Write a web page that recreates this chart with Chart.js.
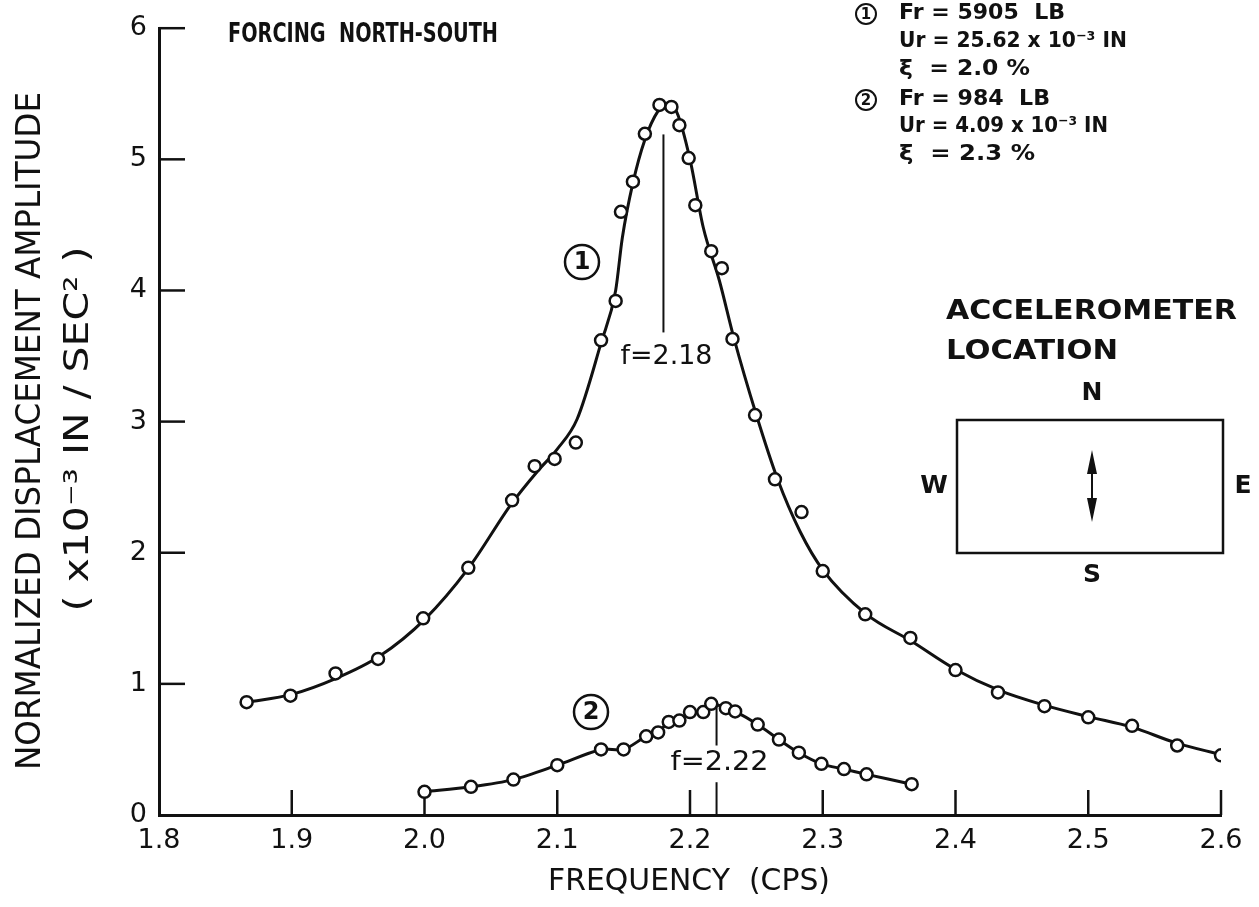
<!DOCTYPE html>
<html>
<head>
<meta charset="utf-8">
<script src="https://cdn.jsdelivr.net/npm/chart.js@4.4.1/dist/chart.umd.min.js"></script>
<style>
  html, body { margin: 0; padding: 0; background: #fff; }
  #wrap { width: 1259px; height: 907px; position: relative; }
</style>
</head>
<body>
<div id="wrap"><canvas id="chart"></canvas></div>
<script>
// run 1 (Fr = 5905 LB) - measured points
const run1Freq = [1.866, 1.899, 1.933, 1.965, 1.999, 2.033, 2.066, 2.083, 2.098, 2.114, 2.133, 2.144, 2.148, 2.157, 2.166, 2.177, 2.186, 2.192, 2.199, 2.204, 2.216, 2.224, 2.232, 2.249, 2.264, 2.284, 2.300, 2.332, 2.366, 2.400, 2.432, 2.467, 2.500, 2.533, 2.567, 2.600];
const run1Amp  = [0.86, 0.91, 1.08, 1.19, 1.50, 1.885, 2.40, 2.66, 2.715, 2.84, 3.62, 3.92, 4.60, 4.83, 5.195, 5.415, 5.40, 5.26, 5.01, 4.65, 4.30, 4.17, 3.63, 3.05, 2.56, 2.31, 1.86, 1.53, 1.35, 1.105, 0.935, 0.83, 0.745, 0.68, 0.53, 0.455];

// run 1 faired curve
const fit1Freq = [1.866, 1.9, 1.933, 1.966, 2.0, 2.033, 2.066, 2.085, 2.1, 2.115, 2.133, 2.144, 2.149, 2.157, 2.166, 2.176, 2.182, 2.19, 2.2, 2.21, 2.222, 2.233, 2.25, 2.266, 2.283, 2.3, 2.333, 2.366, 2.4, 2.433, 2.466, 2.5, 2.533, 2.566, 2.6];
const fit1Amp  = [0.86, 0.92, 1.04, 1.21, 1.49, 1.88, 2.38, 2.62, 2.79, 3.02, 3.6, 4.0, 4.4, 4.82, 5.15, 5.37, 5.42, 5.36, 5.0, 4.48, 4.08, 3.64, 3.05, 2.56, 2.16, 1.87, 1.53, 1.33, 1.11, 0.95, 0.84, 0.75, 0.67, 0.55, 0.46];

// run 2 (Fr = 984 LB)
const run2Freq = [2.0, 2.035, 2.067, 2.1, 2.133, 2.150, 2.167, 2.176, 2.184, 2.192, 2.2, 2.210, 2.216, 2.227, 2.234, 2.251, 2.267, 2.282, 2.299, 2.316, 2.333, 2.367];
const run2Amp  = [0.177, 0.215, 0.27, 0.38, 0.50, 0.50, 0.60, 0.63, 0.71, 0.72, 0.785, 0.785, 0.848, 0.815, 0.79, 0.69, 0.575, 0.475, 0.39, 0.35, 0.31, 0.235];

const xTicks = [1.8, 1.9, 2.0, 2.1, 2.2, 2.3, 2.4, 2.5, 2.6];
const yTicks = [0, 1, 2, 3, 4, 5, 6];
const peakFreq = [2.18, 2.22];

const ink = '#111';
const FONT = '"DejaVu Sans", sans-serif';

function pts(xs, ys) {
    return xs.map((x, i) => ({ x: x, y: ys[i] }));
}

// draw text squeezed/stretched to a given width
function fitText(ctx, str, x, y, size, width, opts) {
    opts = opts || {};
    ctx.save();
    ctx.font = (opts.weight || 'normal') + ' ' + size + 'px ' + FONT;
    const w = ctx.measureText(str).width;
    ctx.translate(x, y);
    if (opts.rotate) ctx.rotate(opts.rotate);
    ctx.scale(width / w, 1);
    ctx.textAlign = opts.align || 'left';
    ctx.textBaseline = 'middle';
    ctx.fillStyle = ink;
    ctx.fillText(str, 0, 0);
    ctx.restore();
}

function circled(ctx, txt, cx, cy, r, size) {
    ctx.save();
    ctx.strokeStyle = ink;
    ctx.lineWidth = r > 12 ? 2.5 : 2;
    ctx.beginPath();
    ctx.arc(cx, cy, r, 0, Math.PI * 2);
    ctx.stroke();
    ctx.fillStyle = ink;
    ctx.font = 'bold ' + size + 'px ' + FONT;
    ctx.textAlign = 'center';
    ctx.textBaseline = 'middle';
    ctx.fillText(txt, cx, cy + 1);
    ctx.restore();
}

function line(ctx, x1, y1, x2, y2, w) {
    ctx.beginPath();
    ctx.lineWidth = w;
    ctx.moveTo(x1, y1);
    ctx.lineTo(x2, y2);
    ctx.stroke();
}

const decor = {
    id: 'decor',
    beforeDatasetsDraw(chart) {
        const ctx = chart.ctx;
        const xs = chart.scales.x, ys = chart.scales.y;
        ctx.save();
        ctx.strokeStyle = ink;
        // inward tick marks
        const y0 = ys.getPixelForValue(0);
        xTicks.slice(1).forEach(v => {
            const px = xs.getPixelForValue(v);
            line(ctx, px, y0, px, y0 - 25, 2.5);
        });
        const x0 = xs.getPixelForValue(1.8);
        yTicks.slice(1).forEach(v => {
            const py = ys.getPixelForValue(v);
            line(ctx, x0, py, x0 + 26, py, 2.5);
        });
        // resonance markers
        let px = xs.getPixelForValue(peakFreq[0]);
        line(ctx, px, ys.getPixelForValue(5.19), px, ys.getPixelForValue(3.68), 2);
        px = xs.getPixelForValue(peakFreq[1]);
        line(ctx, px, ys.getPixelForValue(0.84), px, ys.getPixelForValue(0.53), 2);
        line(ctx, px, ys.getPixelForValue(0.25), px, ys.getPixelForValue(0), 2);
        ctx.restore();
    },
    afterDraw(chart) {
        const ctx = chart.ctx;
        const xs = chart.scales.x;

        // axis titles
        fitText(ctx, 'NORMALIZED DISPLACEMENT AMPLITUDE', 31, 431, 34, 678, { rotate: -Math.PI / 2, align: 'center' });
        fitText(ctx, '( x10\u207B\u00B3 IN / SEC\u00B2 )', 79, 429, 34, 365, { rotate: -Math.PI / 2, align: 'center' });
        fitText(ctx, 'FREQUENCY  (CPS)', 689, 882, 30, 282, { align: 'center' });

        fitText(ctx, 'FORCING  NORTH-SOUTH', 228, 35, 27, 270, { weight: 'bold' });

        // run labels
        circled(ctx, '1', 866, 14, 10, 15);
        fitText(ctx, 'Fr = 5905  LB', 899, 14, 21, 166, { weight: 'bold' });
        fitText(ctx, 'Ur = 25.62 x 10\u207B\u00B3 IN', 899, 42, 21, 228, { weight: 'bold' });
        fitText(ctx, '\u03BE  = 2.0 %', 899, 70, 21, 131, { weight: 'bold' });
        circled(ctx, '2', 866, 100, 10, 15);
        fitText(ctx, 'Fr = 984  LB', 899, 100, 21, 151, { weight: 'bold' });
        fitText(ctx, 'Ur = 4.09 x 10\u207B\u00B3 IN', 899, 127, 21, 209, { weight: 'bold' });
        fitText(ctx, '\u03BE  = 2.3 %', 899, 155, 21, 136, { weight: 'bold' });

        circled(ctx, '1', 582, 262, 17, 24);
        circled(ctx, '2', 591, 712, 17, 24);
        fitText(ctx, 'f=2.18', xs.getPixelForValue(peakFreq[0]) + 3, 357, 27, 92, { align: 'center' });
        fitText(ctx, 'f=2.22', xs.getPixelForValue(peakFreq[1]) + 3, 763, 27, 98, { align: 'center' });

        // accelerometer location sketch
        fitText(ctx, 'ACCELEROMETER', 946, 312, 27, 291, { weight: 'bold' });
        fitText(ctx, 'LOCATION', 946, 352, 27, 172, { weight: 'bold' });
        ctx.save();
        ctx.strokeStyle = ink;
        ctx.lineWidth = 2.5;
        ctx.strokeRect(957, 420, 266, 133);
        ctx.fillStyle = ink;
        ctx.font = 'bold 25px ' + FONT;
        ctx.textAlign = 'center';
        ctx.textBaseline = 'middle';
        ctx.fillText('N', 1092, 393);
        ctx.fillText('S', 1092, 575);
        ctx.fillText('W', 934, 486);
        ctx.fillText('E', 1243, 486);
        line(ctx, 1092, 462, 1092, 510, 2);
        ctx.beginPath();
        ctx.moveTo(1092, 450); ctx.lineTo(1087, 474); ctx.lineTo(1097, 474); ctx.closePath();
        ctx.moveTo(1092, 522); ctx.lineTo(1087, 498); ctx.lineTo(1097, 498); ctx.closePath();
        ctx.fill();
        ctx.restore();
    }
};

const marker = {
    pointRadius: 6,
    pointBorderWidth: 2.5,
    pointBackgroundColor: '#fff',
    pointBorderColor: ink,
    pointHoverRadius: 6
};

new Chart(document.getElementById('chart'), {
    type: 'scatter',
    data: {
        datasets: [
            Object.assign({ label: 'Run 1', data: pts(run1Freq, run1Amp), showLine: false, order: 0 }, marker),
            Object.assign({ label: 'Run 2', data: pts(run2Freq, run2Amp), showLine: true, borderColor: ink, borderWidth: 3, tension: 0.3, order: 0 }, marker),
            {
                label: 'Run 1 curve',
                data: pts(fit1Freq, fit1Amp),
                showLine: true,
                borderColor: ink,
                borderWidth: 3,
                pointRadius: 0,
                cubicInterpolationMode: 'monotone',
                order: 1
            }
        ]
    },
    options: {
        responsive: true,
        maintainAspectRatio: false,
        animation: false,
        layout: { padding: { top: 25, right: 38, left: 0, bottom: 0 } },
        plugins: {
            legend: { display: false },
            tooltip: { enabled: false }
        },
        scales: {
            x: {
                type: 'linear',
                min: 1.8,
                max: 2.6,
                afterBuildTicks: s => { s.ticks = xTicks.map(v => ({ value: v })); },
                afterFit: s => { s.height = 92; },
                grid: { display: false, drawTicks: false },
                border: { display: true, color: ink, width: 3 },
                ticks: {
                    color: ink,
                    padding: 10,
                    maxRotation: 0,
                    font: { family: FONT, size: 27 },
                    callback: v => v.toFixed(1)
                }
            },
            y: {
                type: 'linear',
                min: 0,
                max: 6,
                afterBuildTicks: s => { s.ticks = yTicks.map(v => ({ value: v })); },
                afterFit: s => { s.width = 159; },
                grid: { display: false, drawTicks: false },
                border: { display: true, color: ink, width: 3 },
                ticks: {
                    color: ink,
                    padding: 12,
                    font: { family: FONT, size: 27 },
                    callback: v => String(v)
                }
            }
        }
    },
    plugins: [decor]
});
</script>
</body>
</html>
